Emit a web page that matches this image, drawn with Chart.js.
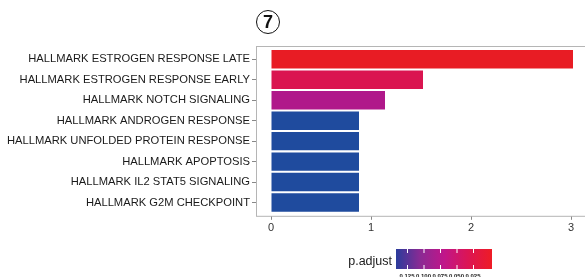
<!DOCTYPE html>
<html>
<head>
<meta charset="utf-8">
<script src="https://cdn.jsdelivr.net/npm/chart.js@4.4.1/dist/chart.umd.min.js"></script>
<style>
    html, body { margin: 0; padding: 0; background: #fff; overflow: hidden; }
    #wrap { position: relative; width: 585px; height: 277px; }
    #badge {
        position: absolute; left: 256px; top: 10px; width: 22px; height: 22px;
        border: 1.6px solid #111; border-radius: 50%;
        font-family: "Liberation Sans", Arial, sans-serif; font-size: 18px; font-weight: bold;
        line-height: 22px; text-align: center; color: #111;
    }
</style>
</head>
<body>
<div id="wrap">
    <canvas id="chart-hallmark" width="585" height="277"></canvas>
    <div id="badge">7</div>
</div>
<script>
// Enrichment bar plot - HALLMARK gene sets

const pathways = [
    'HALLMARK ESTROGEN RESPONSE LATE',
    'HALLMARK ESTROGEN RESPONSE EARLY',
    'HALLMARK NOTCH SIGNALING',
    'HALLMARK ANDROGEN RESPONSE',
    'HALLMARK UNFOLDED PROTEIN RESPONSE',
    'HALLMARK APOPTOSIS',
    'HALLMARK IL2 STAT5 SIGNALING',
    'HALLMARK G2M CHECKPOINT'
];
const barValues = [3.02, 1.52, 1.14, 0.88, 0.88, 0.88, 0.88, 0.88];
const barColors = ['#e81c24', '#da1550', '#b0188a', '#1f4b9e', '#1f4b9e', '#1f4b9e', '#1f4b9e', '#1f4b9e'];
const xTicks = [0, 1, 2, 3];
const legendTitle = 'p.adjust';
const legendLabels = ['0.125', '0.100', '0.075', '0.050', '0.025'];
const legendStops = ['#2a3c9c', '#8a2a94', '#c0168a', '#dc1554', '#ee1c25'];

(function () {
    const FONT = '"Liberation Sans", Arial, sans-serif';

    // panel border (ggplot style box round the plot area)
    const panelBox = {
        id: 'panelBox',
        afterDraw(chart) {
            const a = chart.chartArea, ctx = chart.ctx;
            ctx.save();
            ctx.strokeStyle = '#b5b5b5';
            ctx.lineWidth = 1;
            ctx.strokeRect(a.left + 0.5, a.top + 0.5, a.right - a.left, a.bottom - a.top);
            ctx.restore();
        }
    };

    // colour bar legend under the plot
    const colorLegend = {
        id: 'colorLegend',
        afterDraw(chart) {
            const ctx = chart.ctx;
            const x0 = 396, y0 = 249, w = 96, h = 20;
            ctx.save();
            const g = ctx.createLinearGradient(x0, 0, x0 + w, 0);
            legendStops.forEach((c, i) => g.addColorStop(i / (legendStops.length - 1), c));
            ctx.fillStyle = g;
            ctx.fillRect(x0, y0, w, h);

            ctx.fillStyle = '#1a1a1a';
            ctx.font = '12.5px ' + FONT;
            ctx.textAlign = 'right';
            ctx.textBaseline = 'middle';
            ctx.fillText(legendTitle, 392, y0 + h / 2 + 3);

            ctx.strokeStyle = '#ffffff';
            ctx.lineWidth = 1;
            ctx.font = 'bold 6px ' + FONT;
            ctx.textAlign = 'center';
            ctx.textBaseline = 'top';
            legendLabels.forEach((lab, i) => {
                const x = x0 + 11 + i * 16.5;
                ctx.beginPath();
                ctx.moveTo(x + 0.5, y0);
                ctx.lineTo(x + 0.5, y0 + 4);
                ctx.moveTo(x + 0.5, y0 + h - 4);
                ctx.lineTo(x + 0.5, y0 + h);
                ctx.stroke();
                ctx.fillStyle = '#1a1a1a';
                ctx.fillText(lab, x, y0 + h + 4);
            });
            ctx.restore();
        }
    };

    const ctx = document.getElementById('chart-hallmark').getContext('2d');
    new Chart(ctx, {
        type: 'bar',
        data: {
            datasets: [{
                data: barValues.map((v, i) => ({ x: v, y: i })),
                backgroundColor: barColors,
                borderWidth: 0,
                barPercentage: 0.9,
                categoryPercentage: 1
            }]
        },
        options: {
            indexAxis: 'y',
            responsive: false,
            animation: false,
            layout: { padding: { top: 46, bottom: 40, left: 0, right: 0 } },
            plugins: {
                legend: { display: false },
                tooltip: { enabled: false }
            },
            scales: {
                y: {
                    type: 'linear',
                    reverse: true,
                    offset: false,
                    min: -0.65,
                    max: 7.65,
                    afterBuildTicks: axis => { axis.ticks = pathways.map((p, i) => ({ value: i })); },
                    afterFit: axis => { axis.width = 256; },
                    ticks: {
                        callback: v => pathways[v],
                        color: '#1a1a1a',
                        font: { family: FONT, size: 11.2 },
                        padding: 2
                    },
                    grid: { display: true, offset: false, drawOnChartArea: false, drawTicks: true, tickLength: 4, color: '#888' },
                    border: { display: false }
                },
                x: {
                    type: 'linear',
                    min: -0.15,
                    max: 3.14,
                    afterBuildTicks: axis => { axis.ticks = xTicks.map(v => ({ value: v })); },
                    ticks: {
                        color: '#333',
                        font: { family: FONT, size: 11 },
                        padding: 2
                    },
                    grid: { display: true, drawOnChartArea: false, drawTicks: true, tickLength: 4, color: '#888' },
                    border: { display: false }
                }
            }
        },
        plugins: [panelBox, colorLegend]
    });
})();
</script>
</body>
</html>
